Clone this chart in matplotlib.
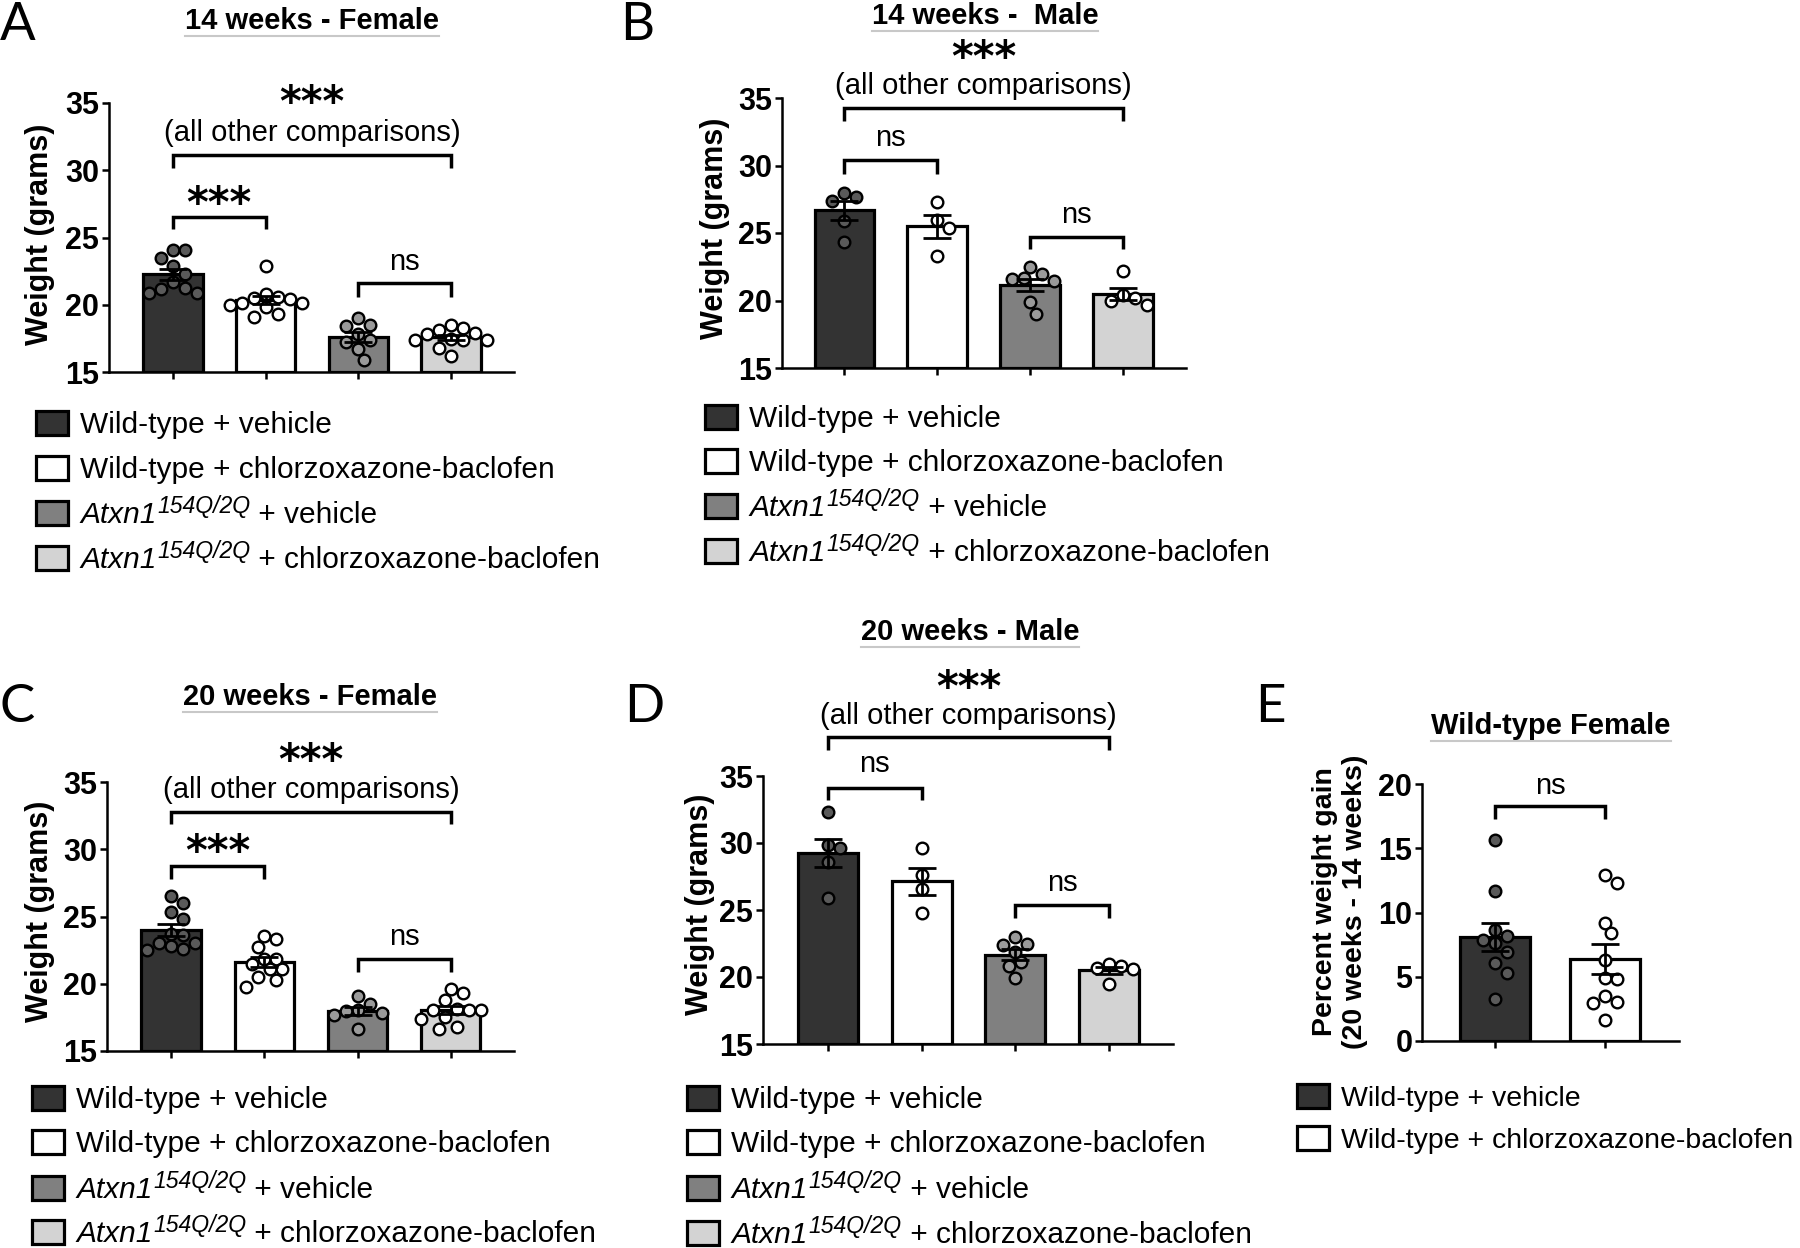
import numpy as np
import matplotlib.pyplot as plt
from matplotlib.patches import Rectangle

plt.rcParams['font.family'] = ['Liberation Sans', 'DejaVu Sans']

# --- dane ---
# etykiety legendy: (kursywa, indeks gorny, reszta)
groups4 = [('', '', 'Wild-type + vehicle'),
           ('', '', 'Wild-type + chlorzoxazone-baclofen'),
           ('Atxn1', '154Q/2Q', ' + vehicle'),
           ('Atxn1', '154Q/2Q', ' + chlorzoxazone-baclofen')]
groups2 = groups4[:2]

a_wt_veh = [24.05, 24.05, 23.5, 22.85, 22.3, 21.7, 21.25, 21.2, 20.9, 20.9]
a_wt_cb = [22.9, 20.8, 20.55, 20.5, 20.4, 20.1, 20.1, 20.0, 19.8, 19.3, 19.1]
a_ko_veh = [19.0, 18.5, 18.4, 17.8, 17.4, 17.2, 16.7, 15.9]
a_ko_cb = [18.5, 18.3, 18.1, 17.9, 17.8, 17.45, 17.4, 17.4, 17.4, 16.8, 16.2]

b_wt_veh = [28.0, 27.7, 27.4, 25.9, 24.35]
b_wt_cb = [27.3, 26.0, 25.35, 23.3]
b_ko_veh = [22.45, 21.95, 21.7, 21.56, 21.46, 19.9, 19.03]
b_ko_cb = [22.2, 20.4, 20.15, 19.95, 19.65]

c_wt_veh = [26.5, 26.0, 25.33, 24.84, 23.72, 23.6, 23.03, 23.03, 22.78, 22.6, 22.53]
c_wt_cb = [23.53, 23.35, 22.73, 21.86, 21.86, 21.5, 21.1, 21.1, 20.5, 20.3, 19.76]
c_ko_veh = [19.06, 18.47, 18.07, 18.0, 17.8, 17.65, 16.6]
c_ko_cb = [19.63, 19.3, 18.77, 18.15, 18.07, 18.07, 18.07, 17.5, 17.4, 16.78, 16.66]

d_wt_veh = [32.3, 29.88, 29.66, 28.6, 25.93]
d_wt_cb = [29.6, 27.6, 26.6, 24.8]
d_ko_veh = [23.0, 22.5, 22.4, 21.9, 21.1, 20.8, 19.9]
d_ko_cb = [21.0, 20.8, 20.7, 20.6, 19.5]

e_wt_veh = [15.66, 11.71, 8.6, 8.18, 7.87, 7.6, 6.96, 6.05, 5.27, 3.25]
e_wt_cb = [12.94, 12.29, 9.22, 8.39, 6.31, 4.88, 4.8, 3.5, 3.06, 2.99, 1.64]

weight_ticks = [15, 20, 25, 30, 35]
gain_ticks = [0, 5, 10, 15, 20]

bar_colors = ['#333333', '#ffffff', '#808080', '#d3d3d3']
dot_colors = ['#5a5a5a', '#ffffff', '#9a9a9a', '#ffffff']

ALL = '(all other comparisons)'

W, H = 1800, 1248
fig = plt.figure(figsize=(W / 100, H / 100), dpi=100)
rend = fig.canvas.get_renderer()

# warstwa w pikselach na teksty, legendy
ov = fig.add_axes([0, 0, 1, 1])
ov.set_xlim(0, W)
ov.set_ylim(H, 0)
ov.axis('off')
ov.patch.set_visible(False)


def px_axes(x0, y0, x1, y1):
    return fig.add_axes([x0 / W, 1 - y1 / H, (x1 - x0) / W, (y1 - y0) / H])


def swarm(ax, xc, vals, d=12.0):
    trans = ax.transData
    inv = trans.inverted()
    placed = []
    xs = np.zeros(len(vals))
    cands = [0.0]
    for j in range(1, 30):
        cands += [j * 0.5, -j * 0.5]
    for i in np.argsort(vals)[::-1]:
        px, py = trans.transform((xc, vals[i]))
        cx = px
        for c in cands:
            cx = px + c * d
            if all((cx - qx) ** 2 + (py - qy) ** 2 >= (d * 0.98) ** 2 for qx, qy in placed):
                break
        placed.append((cx, py))
        xs[i] = inv.transform((cx, py))[0]
    return xs


def panel(ax, groups, ylim, yticks, xlim, brackets, labels):
    ax.set_xlim(*xlim)
    ax.set_ylim(*ylim)
    for i, vals in enumerate(groups):
        vals = np.array(vals)
        m = vals.mean()
        sem = vals.std(ddof=1) / np.sqrt(len(vals))
        ax.bar(i, m - ylim[0], bottom=ylim[0], width=0.64, color=bar_colors[i],
               edgecolor='black', linewidth=2.3, zorder=2)
        xs = swarm(ax, i, vals)
        ax.scatter(xs, vals, s=70, facecolor=dot_colors[i], edgecolor='black',
                   linewidth=1.7, zorder=3, clip_on=False)
        ax.errorbar(i, m, yerr=sem, color='black', capsize=10, capthick=2.0,
                    elinewidth=2.0, zorder=4)

    # osie
    for s in ['top', 'right']:
        ax.spines[s].set_visible(False)
    for s in ['left', 'bottom']:
        ax.spines[s].set_linewidth(1.8)
    ax.set_xticks(range(len(groups)))
    ax.set_xticklabels([])
    ax.set_yticks(yticks)
    ax.set_yticklabels([str(t) for t in yticks], fontsize=22, fontweight='bold')
    ax.tick_params(direction='out', length=5, width=1.8, pad=2)

    # porownania
    for x0, x1, ytop, ybot in brackets:
        ax.plot([x0, x0, x1, x1], [ybot, ytop, ytop, ybot], color='black', lw=2.5,
                clip_on=False, solid_joinstyle='miter', solid_capstyle='butt')
    for x, y, t in labels:
        if t == '***':
            ax.annotate(t, (x, y), xytext=(0, -0.48 * 30), textcoords='offset points',
                        ha='center', va='baseline', fontsize=30, fontweight='bold',
                        family='DejaVu Sans', annotation_clip=False)
        else:
            k = 0.27 if t == 'ns' else 0.32
            ax.annotate(t, (x, y), xytext=(0, -k * 21), textcoords='offset points',
                        ha='center', va='baseline', fontsize=21, annotation_clip=False)


def title(cx, cy, text):
    t = ov.text(cx, cy, text, ha='center', va='center', fontsize=21, fontweight='bold')
    bb = t.get_window_extent(rend)
    ov.plot([bb.x0, bb.x1], [H - bb.y0 + 1, H - bb.y0 + 1], color='#c8c8c8', lw=1.5)


def legend(x0, rows, labels, size=21.5):
    for i, (yc, (it, sup, rest)) in enumerate(zip(rows, labels)):
        ov.add_patch(Rectangle((x0, yc - 12), 32, 24, facecolor=bar_colors[i],
                               edgecolor='black', linewidth=2.3))
        x = x0 + 44
        yb = yc + 10
        if it:
            t = ov.text(x, yb, it, ha='left', va='baseline', fontsize=size, style='italic')
            x = t.get_window_extent(rend).x1 + 1
            t = ov.text(x, yb - 10, sup, ha='left', va='baseline', fontsize=size * 0.77,
                        style='italic')
            x = t.get_window_extent(rend).x1
        ov.text(x, yb, rest, ha='left', va='baseline', fontsize=size)


def letter(x, y, t):
    ov.text(x, y, t, ha='left', va='baseline', fontsize=38,
            family=['Lato', 'DejaVu Sans'], fontweight='normal')


def ylab(x, y, t, size=22):
    ov.text(x, y, t, rotation=90, ha='center', va='center', fontsize=size,
            fontweight='bold', linespacing=1.2, multialignment='center')


# A
ax = px_axes(109, 103, 514, 372)
panel(ax, [a_wt_veh, a_wt_cb, a_ko_veh, a_ko_cb], (15, 35), weight_ticks, (-0.69, 3.68),
      [(0, 1, 26.5, 25.6), (0, 3, 31.15, 30.2), (2, 3, 21.6, 20.6)],
      [(0.5, 28.0, '***'), (1.5, 35.5, '***'), (1.5, 32.9, ALL), (2.5, 23.2, 'ns')])

# B
ax = px_axes(782, 98, 1186, 368)
panel(ax, [b_wt_veh, b_wt_cb, b_ko_veh, b_ko_cb], (15, 35), weight_ticks, (-0.67, 3.68),
      [(0, 3, 34.26, 33.27), (0, 1, 30.4, 29.4), (2, 3, 24.7, 23.8)],
      [(1.5, 38.5, '***'), (1.5, 36.0, ALL), (0.5, 32.0, 'ns'), (2.5, 26.3, 'ns')])

# C
ax = px_axes(107, 782, 514, 1051)
panel(ax, [c_wt_veh, c_wt_cb, c_ko_veh, c_ko_cb], (15, 35), weight_ticks, (-0.69, 3.68),
      [(0, 3, 32.77, 31.85), (0, 1, 28.73, 27.76), (2, 3, 21.86, 20.87)],
      [(1.5, 37.1, '***'), (1.5, 34.5, ALL), (0.5, 30.3, '***'), (2.5, 23.5, 'ns')])

# D
ax = px_axes(763, 776, 1173, 1044)
panel(ax, [d_wt_veh, d_wt_cb, d_ko_veh, d_ko_cb], (15, 35), weight_ticks, (-0.69, 3.68),
      [(0, 3, 37.9, 36.96), (0, 1, 34.13, 33.24), (2, 3, 25.36, 24.44)],
      [(1.5, 42.1, '***'), (1.5, 39.6, ALL), (0.5, 35.9, 'ns'), (2.5, 26.97, 'ns')])

# E
ax = px_axes(1422, 784, 1679, 1041)
panel(ax, [e_wt_veh, e_wt_cb], (0, 20), gain_ticks, (-0.66, 1.67),
      [(0, 1, 18.26, 17.27)], [(0.5, 19.87, 'ns')])

# tytuly
title(312, 21, '14 weeks - Female')
title(985, 16, '14 weeks -  Male')
title(310, 697, '20 weeks - Female')
title(970, 632, '20 weeks - Male')
title(1551, 726, 'Wild-type Female')

# litery paneli
letter(0, 40, 'A')
letter(620, 40, 'B')
letter(0, 722, 'C')
letter(624, 722, 'D')
letter(1255, 722, 'E')

# etykiety osi
ylab(40, 234, 'Weight (grams)')
ylab(715, 228, 'Weight (grams)')
ylab(40, 911, 'Weight (grams)')
ylab(700, 904, 'Weight (grams)')
ylab(1340, 902, 'Percent weight gain\n(20 weeks - 14 weeks)', size=20.5)

# legendy
legend(36, [423, 468, 513, 558], groups4)
legend(705, [417, 461, 506, 551], groups4)
legend(32, [1098, 1142, 1188, 1232], groups4)
legend(687, [1098, 1142, 1188, 1233], groups4)
legend(1297, [1096, 1138], groups2, size=20.5)

fig.savefig('out.png', dpi=100)
